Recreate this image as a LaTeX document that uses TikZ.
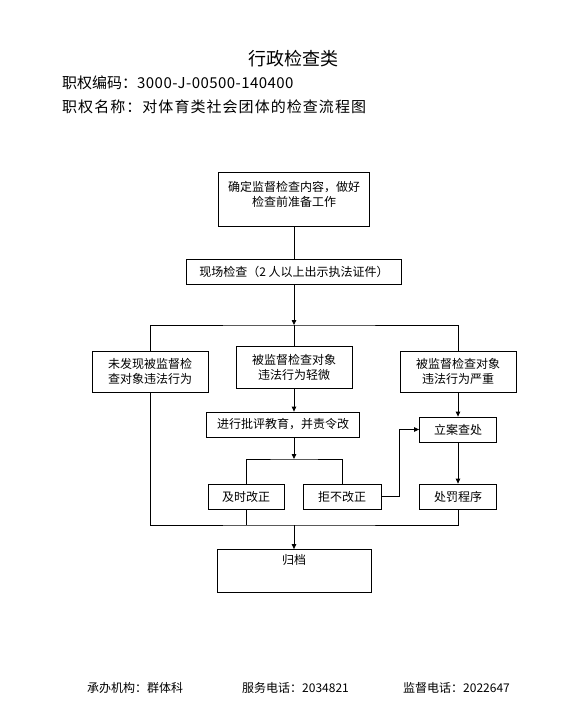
\documentclass[tikz,border=0pt]{standalone}
\usepackage{fontspec}
\setmainfont{Noto Sans CJK SC}
\usetikzlibrary{arrows.meta, positioning}
\tikzset{
  flowbox/.style={rectangle, draw=black, line width=0.8pt, align=center,
                  font=\fontsize{12}{15}\selectfont, inner sep=2pt},
  headtext/.style={anchor=west, inner sep=0pt, font=\fontsize{15}{18}\selectfont},
  foottext/.style={anchor=west, inner sep=0pt, font=\fontsize{12}{14}\selectfont},
  line/.style={draw=black, line width=0.8pt},
  arrow/.style={line, -{Triangle[length=5pt, width=4.5pt]}}
}

\begin{document}
\begin{tikzpicture}[x=1pt, y=-1pt]
  \useasboundingbox (0,0) rectangle (582,720);

  % header
  \node[font=\fontsize{18}{20}\selectfont] (title) at (293,59) {行政检查类};
  \node[headtext] (code) at (62,83) {职权编码：\addfontfeature{LetterSpace=3}3000-J-00500-140400};
  \node[headtext] (name) at (62,107) {\addfontfeature{LetterSpace=7}职权名称：对体育类社会团体的检查流程图};

  % flow boxes
  \node[flowbox, minimum width=151pt, minimum height=54pt, text depth=11pt] (prep) at (294,199)
    {确定监督检查内容，做好\\检查前准备工作};
  \node[flowbox, minimum width=215pt, minimum height=25pt] (site) at (294,271.5)
    {现场检查（2 人以上出示执法证件）};
  \node[flowbox, minimum width=116pt, minimum height=41pt] (none) at (150,371.5)
    {未发现被监督检\\查对象违法行为};
  \node[flowbox, minimum width=116pt, minimum height=42pt] (minor) at (294,367)
    {被监督检查对象\\违法行为轻微};
  \node[flowbox, minimum width=116pt, minimum height=41pt] (serious) at (458,371.5)
    {被监督检查对象\\违法行为严重};
  \node[flowbox, minimum width=153pt, minimum height=25pt] (edu) at (283,424.5)
    {进行批评教育，并责令改};
  \node[flowbox, minimum width=76pt, minimum height=25pt] (fix) at (246,496.5)
    {及时改正};
  \node[flowbox, minimum width=78pt, minimum height=25pt] (refuse) at (342,496.5)
    {拒不改正};
  \node[flowbox, minimum width=77pt, minimum height=25pt] (case) at (458,429.5)
    {立案查处};
  \node[flowbox, minimum width=77pt, minimum height=25pt] (punish) at (458,496.5)
    {处罚程序};
  \node[flowbox, minimum width=154pt, minimum height=43pt] (archive) at (294,571)
    {归档\\[3pt]\strut};

  % connectors
  \coordinate (split1) at (294,325);
  \coordinate (split2) at (294,459);
  \coordinate (merge) at (294,525);

  \draw[line] (prep) -- (site);
  \draw[arrow] (site) -- (split1);
  \draw[line] (none.north) |- (split1) -| (serious.north);
  \draw[line] (split1) -- (minor.north);
  \draw[arrow] (minor.south) -- (minor.south |- edu.north);
  \draw[arrow] (split2 |- edu.south) -- (split2);
  \draw[line] (fix.north) |- (split2) -| (refuse.north);
  \draw[arrow] (refuse.east) -- ++(18,0) |- (case.west);
  \draw[arrow] (serious.south) -- (case.north);
  \draw[arrow] (case) -- (punish);
  \draw[line] (none.south) |- (merge) -| (punish.south);
  \draw[line] (fix.south) -- (fix.south |- merge);
  \draw[arrow] (merge) -- (archive.north);

  % footer
  \node[foottext] (office) at (87,688) {承办机构：群体科};
  \node[foottext] (service) at (242,688) {服务电话：2034821};
  \node[foottext] (monitor) at (403,688) {监督电话：2022647};
\end{tikzpicture}
\end{document}
